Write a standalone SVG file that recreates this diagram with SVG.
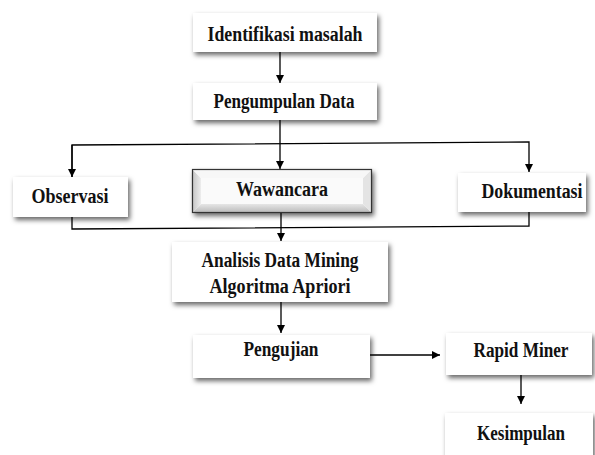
<svg xmlns="http://www.w3.org/2000/svg" width="595" height="455" viewBox="0 0 595 455">
<defs>
<filter id="sh" x="-10%" y="-20%" width="125%" height="160%">
<feDropShadow dx="2" dy="3" stdDeviation="2.5" flood-color="#000" flood-opacity="0.6"/>
</filter>
<linearGradient id="bl" x1="0" y1="0" x2="1" y2="0"><stop offset="0" stop-color="#c8c8c8"/><stop offset="1" stop-color="#ededed"/></linearGradient>
<linearGradient id="bb" x1="0" y1="0" x2="0" y2="1"><stop offset="0" stop-color="#e6e6e6"/><stop offset="1" stop-color="#bdbdbd"/></linearGradient>
<marker id="ar" viewBox="0 0 10 10" refX="10" refY="5" markerWidth="8" markerHeight="8" markerUnits="userSpaceOnUse" orient="auto">
<path d="M0,0 L10,5 L0,10 z" fill="#000"/>
</marker>
</defs>
<style>
.box{fill:#fff;filter:url(#sh);}
.t{font-family:"Liberation Serif","Times New Roman",serif;font-weight:bold;font-size:20px;fill:#111;text-anchor:middle;}
.c{fill:none;stroke:#000;stroke-width:1.3;}
</style>
<rect width="595" height="455" fill="#fff"/>
<g id="connectors">
<line class="c" x1="280" y1="52" x2="280" y2="83" marker-end="url(#ar)"/>
<line class="c" x1="280" y1="120" x2="280" y2="143.5"/>
<polyline class="c" points="72,177 72,145 529,142 529,172" marker-end="url(#ar)"/>
<line class="c" x1="72" y1="145" x2="72" y2="177" marker-end="url(#ar)"/>
<line class="c" x1="280" y1="143.5" x2="280" y2="169" marker-end="url(#ar)"/>
<polyline class="c" points="72,217 72,229 529,226 529,212"/>
<line class="c" x1="281" y1="213" x2="281" y2="241" marker-end="url(#ar)"/>
<line class="c" x1="281" y1="302" x2="281" y2="333" marker-end="url(#ar)"/>
<line class="c" x1="370" y1="355" x2="440" y2="355" marker-end="url(#ar)"/>
<line class="c" x1="521" y1="375" x2="521" y2="404" marker-end="url(#ar)"/>
</g>
<g id="identifikasi">
<rect class="box" x="193" y="13" width="184" height="39"/>
<text class="t" x="285" y="41" textLength="155" lengthAdjust="spacingAndGlyphs">Identifikasi masalah</text>
</g>
<g id="pengumpulan">
<rect class="box" x="193" y="83" width="184" height="37"/>
<text class="t" x="284" y="108" textLength="141" lengthAdjust="spacingAndGlyphs">Pengumpulan Data</text>
</g>
<g id="observasi">
<rect class="box" x="13" y="177" width="115" height="40"/>
<text class="t" x="70" y="203" textLength="77" lengthAdjust="spacingAndGlyphs">Observasi</text>
</g>
<g id="wawancara">
<rect x="192" y="169" width="180" height="44" fill="#fff" filter="url(#sh)"/>
<polygon points="193,170 201,178 201,204 193,212" fill="url(#bl)"/>
<polygon points="193,212 201,204 363,204 371,212" fill="url(#bb)"/>
<polygon points="371,170 363,178 363,204 371,212" fill="#e4e4e4"/>
<polygon points="193,170 371,170 363,178 201,178" fill="#f7f7f7"/>
<rect x="201" y="178" width="162" height="26" fill="#fafafa"/>
<rect x="192.5" y="169.5" width="179" height="43" fill="none" stroke="#333" stroke-width="1.2"/>
<text class="t" x="282" y="196" textLength="92" lengthAdjust="spacingAndGlyphs">Wawancara</text>
</g>
<g id="dokumentasi">
<rect class="box" x="458" y="173" width="128" height="39"/>
<text class="t" x="532" y="198" textLength="101" lengthAdjust="spacingAndGlyphs">Dokumentasi</text>
</g>
<g id="analisis">
<rect class="box" x="172" y="242" width="216" height="60"/>
<text class="t" x="280" y="267" textLength="157" lengthAdjust="spacingAndGlyphs">Analisis Data Mining</text>
<text class="t" x="280" y="293" textLength="141" lengthAdjust="spacingAndGlyphs">Algoritma Apriori</text>
</g>
<g id="pengujian">
<rect class="box" x="193" y="335" width="177" height="43"/>
<text class="t" x="281" y="356" textLength="75" lengthAdjust="spacingAndGlyphs">Pengujian</text>
</g>
<g id="rapidminer">
<rect class="box" x="446" y="333" width="146" height="42"/>
<text class="t" x="521" y="357" textLength="95" lengthAdjust="spacingAndGlyphs">Rapid Miner</text>
</g>
<g id="kesimpulan">
<rect class="box" x="445" y="413" width="148" height="50"/>
<text class="t" x="521" y="440" textLength="88" lengthAdjust="spacingAndGlyphs">Kesimpulan</text>
</g>
</svg>
